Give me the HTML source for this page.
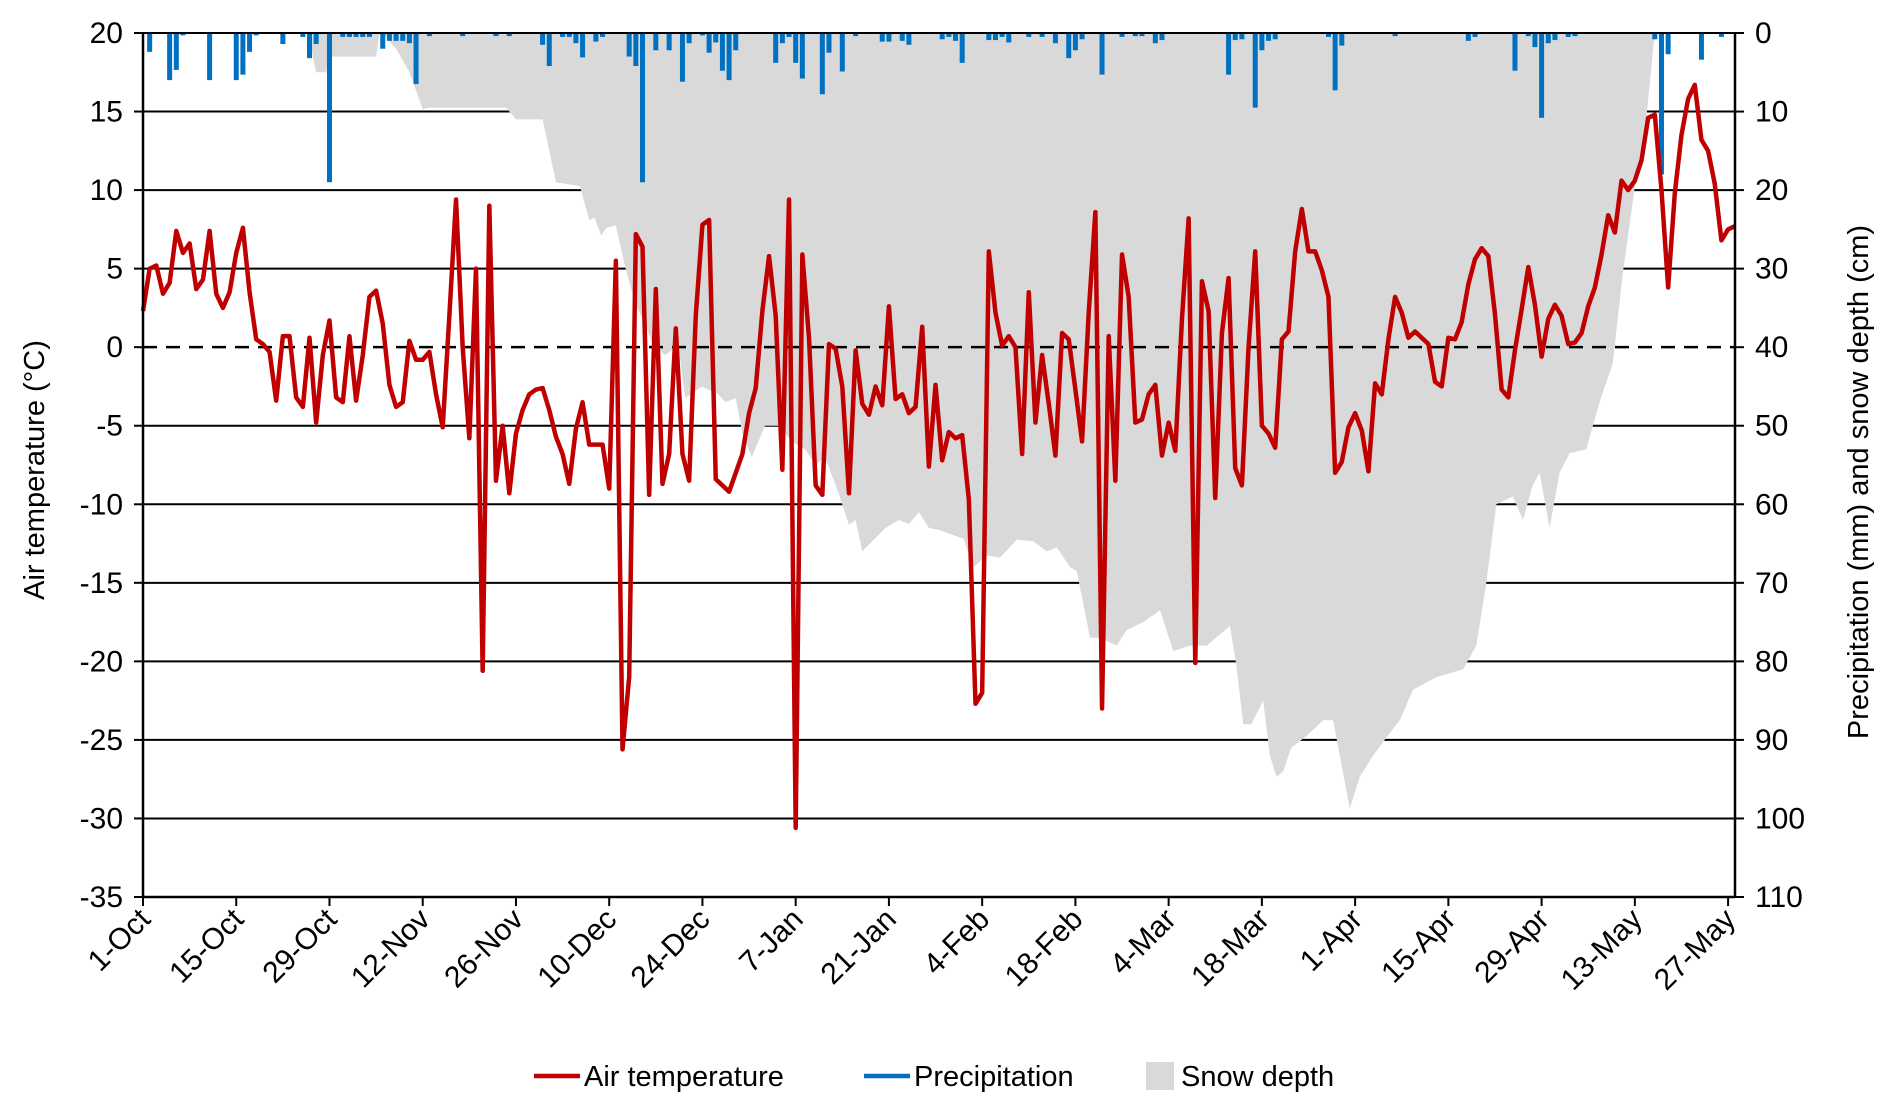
<!DOCTYPE html>
<html><head><meta charset="utf-8"><style>
body{margin:0;background:#fff;}
svg text{font-family:"Liberation Sans",sans-serif;fill:#000;}
</style></head><body>
<svg id="chart" width="1892" height="1109" viewBox="0 0 1892 1109" xmlns="http://www.w3.org/2000/svg">
<g id="grid"></g>
<g id="snow"></g>
<g id="precip"></g>
<g id="zero"></g>
<g id="temp"></g>
<g id="axes"></g>
<text transform="translate(44,470) rotate(-90)" text-anchor="middle" font-size="29">Air temperature (°C)</text>
<text transform="translate(1868,482) rotate(-90)" text-anchor="middle" font-size="29">Precipitation (mm) and snow depth (cm)</text>
<g>
<g><line x1="534" y1="1076" x2="580" y2="1076" stroke="#C00000" stroke-width="4.5"/><text x="584" y="1086" font-size="29">Air temperature</text></g>
<g><line x1="864" y1="1076" x2="910" y2="1076" stroke="#0070C0" stroke-width="4.5"/><text x="914" y="1086" font-size="29">Precipitation</text></g>
<g><rect x="1146" y="1062" width="28" height="28" fill="#D9D9D9"/><text x="1181" y="1086" font-size="29">Snow depth</text></g>
</g>
</svg>
<script>
const tempValues=[2.3,5.0,5.2,3.4,4.1,7.4,6.0,6.6,3.7,4.3,7.4,3.4,2.5,3.5,6.0,7.6,3.5,0.5,0.2,-0.3,-3.4,0.7,0.7,-3.2,-3.8,0.6,-4.8,-0.5,1.7,-3.2,-3.5,0.7,-3.4,-0.5,3.2,3.6,1.5,-2.4,-3.8,-3.5,0.4,-0.8,-0.8,-0.3,-3.0,-5.1,2.0,9.4,0.0,-5.8,5.0,-20.6,9.0,-8.5,-5.0,-9.3,-5.5,-4.0,-3.0,-2.7,-2.6,-4.0,-5.7,-6.8,-8.7,-5.2,-3.5,-6.2,-6.2,-6.2,-9.0,5.5,-25.6,-21.0,7.2,6.4,-9.4,3.7,-8.7,-6.8,1.2,-6.8,-8.5,2.0,7.8,8.1,-8.4,-8.8,-9.2,-8.0,-6.8,-4.2,-2.6,2.3,5.8,2.0,-7.8,9.4,-30.6,5.9,0.6,-8.8,-9.4,0.2,-0.1,-2.5,-9.3,-0.2,-3.6,-4.3,-2.5,-3.7,2.6,-3.3,-3.0,-4.2,-3.8,1.3,-7.6,-2.4,-7.2,-5.4,-5.8,-5.6,-9.7,-22.7,-22.0,6.1,2.2,0.1,0.7,0.0,-6.8,3.5,-4.8,-0.5,-3.6,-6.9,0.9,0.5,-2.7,-6.0,2.2,8.6,-23.0,0.7,-8.5,5.9,3.2,-4.8,-4.6,-3.0,-2.4,-6.9,-4.8,-6.6,1.8,8.2,-20.1,4.2,2.3,-9.6,0.9,4.4,-7.7,-8.8,0.0,6.1,-5.0,-5.5,-6.4,0.5,1.0,6.1,8.8,6.1,6.1,4.9,3.2,-8.0,-7.3,-5.1,-4.2,-5.3,-7.9,-2.3,-3.0,0.5,3.2,2.2,0.6,1.0,0.6,0.2,-2.2,-2.5,0.6,0.5,1.6,4.0,5.6,6.3,5.8,2.1,-2.7,-3.2,-0.2,2.4,5.1,2.7,-0.6,1.8,2.7,2.0,0.2,0.3,0.9,2.6,3.8,5.9,8.4,7.3,10.6,10.0,10.6,11.9,14.6,14.8,10.0,3.8,9.8,13.5,15.8,16.7,13.2,12.5,10.4,6.8,7.5,7.7];
const precipDays=[1,4,5,6,10,14,15,16,17,21,24,25,26,28,30,31,32,33,34,36,37,38,39,40,41,43,48,53,55,60,61,63,64,65,66,68,69,73,74,75,77,79,81,82,84,85,86,87,88,89,95,96,97,98,99,102,103,105,107,111,112,114,115,120,121,122,123,127,128,129,130,133,135,137,139,140,141,144,147,149,150,152,153,163,164,165,167,168,169,170,178,179,180,188,199,200,206,208,209,210,211,212,214,215,227,228,229,234,237];
const precipValues=[2.4,6,4.7,0.3,6,6,5.3,2.4,0.3,1.4,0.5,3.2,1.4,19,0.5,0.5,0.5,0.5,0.5,2,1,1,1,1.3,6.5,0.4,0.4,0.4,0.4,1.5,4.2,0.5,0.5,1.3,3.1,1.1,0.5,3,4.2,19,2.2,2.2,6.2,1.3,0.3,2.5,1.2,4.8,6,2.2,3.8,1.3,0.5,3.8,5.8,7.8,2.5,4.9,0.4,1.1,1.1,1,1.5,0.8,0.5,1,3.8,0.9,0.9,0.5,1.2,0.5,0.5,1.3,3.2,2.2,0.8,5.3,0.5,0.4,0.4,1.3,0.9,5.3,0.9,0.8,9.5,2.2,1,0.8,0.5,7.3,1.6,0.4,1,0.5,4.8,0.4,1.8,10.8,1.3,0.9,0.5,0.4,0.8,18,2.7,3.4,0.5];
const snowDays=[25,25.5,26,27.5,28,35,35.5,36.5,38,40,42,43,54.5,56,60,61,62,65.6,67,67.8,68.8,69.6,71,72.4,73.9,75.4,76.6,78.4,80.4,81.4,83.9,86.4,87.4,89,90,91.4,93.4,95.4,97.4,99.4,101,102.4,104.4,106,107,108,111.5,113.5,115,116.5,118,119.7,123.2,124.7,126.7,128.7,131.2,133.7,135.7,137.2,139.2,140.2,142.2,143.7,146.2,147.7,150.2,152.7,154.7,157.2,159.7,163.2,164.2,165.2,166.4,168.2,169.2,170.2,171.2,172.4,174.7,177.2,178.7,179.7,180.9,181.2,182.7,184.7,186.7,188.7,190.7,194.2,198.2,200.2,201.7,203.2,205.7,207.2,208.7,209.7,211.2,212.7,214.2,216.7,218.7,220.7,222.2,224.2,225.7,227];
const snowValues=[0,3,5,5,3,3,0,0.5,2,5,9.7,9.5,9.5,11,11,15,19,19.5,23.8,23.5,25.8,24.8,24.5,29.8,34.5,37,39.8,41,39.8,46.5,45,46,47,46.5,51,54,50,50,52,53,55,54,58.5,62.6,62,66,63,62,62.5,61,63,63.3,64.4,68,66.5,66.8,64.5,64.7,66,65.5,68,68.5,77,77,78,76,75,73.5,78.7,78,78,75.5,80.7,88,88,85,92,94.7,94,91,89.5,87.5,87.5,92,97.4,98.7,94.7,92,89.7,87.5,83.6,82,81,78,70,60,59,62,57.5,56,63,56,53.5,53,47,42,30.5,18.4,11,0];
const leftTicks=[20,15,10,5,0,-5,-10,-15,-20,-25,-30,-35];
const rightTicks=[0,10,20,30,40,50,60,70,80,90,100,110];
const dateLabels=["1-Oct","15-Oct","29-Oct","12-Nov","26-Nov","10-Dec","24-Dec","7-Jan","21-Jan","4-Feb","18-Feb","4-Mar","18-Mar","1-Apr","15-Apr","29-Apr","13-May","27-May"];

const NS="http://www.w3.org/2000/svg";
const L=143,R=1735,T=33,B=897;
const xDay=d=>L+d*6.66;
const yT=v=>T+(20-v)*(B-T)/55;
const yR=v=>T+v*(B-T)/110;
function mk(tag,parent,attrs){const e=document.createElementNS(NS,tag);for(const k in attrs)e.setAttribute(k,attrs[k]);parent.appendChild(e);return e;}
const grid=document.getElementById('grid'),axes=document.getElementById('axes');
leftTicks.forEach(v=>{
  if(v!==0&&v!==-35){const g=mk('line',grid,{x1:L,x2:R,y1:yT(v),y2:yT(v),stroke:'#000','stroke-width':2});
  
  }
  mk('line',axes,{x1:L-9,x2:L,y1:yT(v),y2:yT(v),stroke:'#000','stroke-width':2});
  const t=mk('text',axes,{x:L-20,y:yT(v)+10,'text-anchor':'end','font-size':30});t.textContent=v;
  
  
});
rightTicks.forEach(v=>{
  mk('line',axes,{x1:R,x2:R+9,y1:yR(v),y2:yR(v),stroke:'#000','stroke-width':2});
  const t=mk('text',axes,{x:R+20,y:yR(v)+10,'font-size':30});t.textContent=v;
  
  
});
mk('line',axes,{x1:L,x2:L,y1:T,y2:B,stroke:'#000','stroke-width':2.5});
mk('line',axes,{x1:R,x2:R,y1:T,y2:B,stroke:'#000','stroke-width':2.5});
mk('line',axes,{x1:L,x2:R,y1:B,y2:B,stroke:'#000','stroke-width':2.5});
mk('line',axes,{x1:L,x2:R,y1:T,y2:T,stroke:'#000','stroke-width':2});
dateLabels.forEach((s,i)=>{
  const x=xDay(i*14);
  mk('line',axes,{x1:x,x2:x,y1:B,y2:B+9,stroke:'#000','stroke-width':2});
  const t=mk('text',axes,{transform:`translate(${x+9},${B+24}) rotate(-45)`,'text-anchor':'end','font-size':30});t.textContent=s;
  
  
});
let pts=`${xDay(snowDays[0])},${T} `;
snowDays.forEach((d,i)=>{pts+=`${xDay(d)},${yR(snowValues[i])} `;});
pts+=`${xDay(snowDays[snowDays.length-1])},${T}`;
const sp=mk('polygon',document.getElementById('snow'),{points:pts,fill:'#D9D9D9'});


const pg=document.getElementById('precip');
precipDays.forEach((d,i)=>{
  const r=mk('rect',pg,{x:xDay(d)-2.5,y:T,width:5,height:yR(precipValues[i])-T,fill:'#0070C0'});
  
  
});
const z=mk('line',document.getElementById('zero'),{x1:L,x2:R,y1:yT(0),y2:yT(0),stroke:'#000','stroke-width':2.5,'stroke-dasharray':'14,9'});


const tp=tempValues.map((v,i)=>`${xDay(i)},${yT(v)}`).join(' ');
const pl=mk('polyline',document.getElementById('temp'),{points:tp,fill:'none',stroke:'#C00000','stroke-width':4.5,'stroke-linejoin':'round'});


</script>
</body></html>
